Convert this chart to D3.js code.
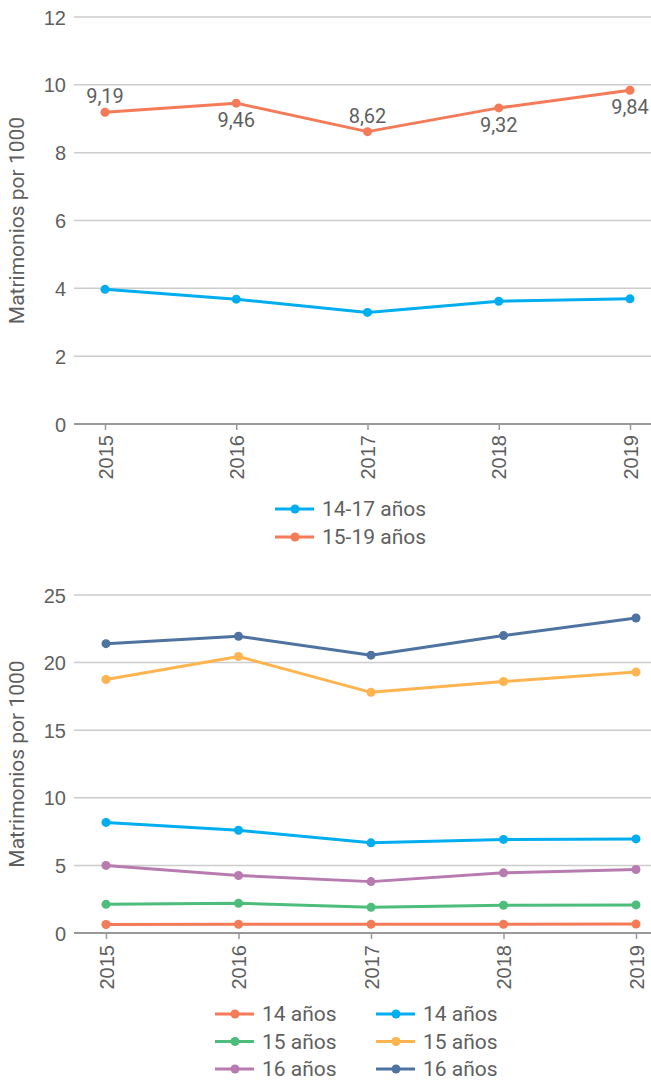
<!DOCTYPE html>
<html>
<head>
<meta charset="utf-8">
<script src="https://cdn.jsdelivr.net/npm/d3@7"></script>
<style>
  html, body { margin: 0; padding: 0; background: #fff; }
  svg { display: block; font-family: Roboto, "Noto Sans", sans-serif; }
</style>
</head>
<body>
<svg id="chart" width="651" height="1081"></svg>
<script>
// ---------- DATA ----------
const years = ["2015", "2016", "2017", "2018", "2019"];

// Top chart
const topNames = ["14-17 años", "15-19 años"];
const top1417 = [3.97, 3.68, 3.29, 3.62, 3.69];
const top1519 = [9.19, 9.46, 8.62, 9.32, 9.84];
const topValueLabels = ["9,19", "9,46", "8,62", "9,32", "9,84"];
const topLabelSide = [-1, 1, -1, 1, 1]; // -1 above, 1 below
const topTicks = [0, 2, 4, 6, 8, 10, 12];

// Bottom chart
const botNames = ["14 años", "15 años", "16 años", "14 años", "15 años", "16 años"];
const bot14a = [0.63, 0.64, 0.64, 0.65, 0.66];
const bot15a = [2.12, 2.20, 1.90, 2.05, 2.08];
const bot16a = [5.00, 4.25, 3.80, 4.45, 4.70];
const bot14b = [8.18, 7.60, 6.67, 6.92, 6.96];
const bot15b = [18.75, 20.45, 17.80, 18.60, 19.30];
const bot16b = [21.40, 21.95, 20.55, 22.00, 23.30];
const botTicks = [0, 5, 10, 15, 20, 25];

const yTitle = "Matrimonios por 1000";

// ---------- STYLE ----------
const C = {
  coral: "#f47a58", cyan: "#00adef", green: "#4dbd7b",
  orange: "#ffb450", purple: "#b87bb0", navy: "#4e73a0",
  grid: "#cccccc", axis: "#999999", text: "#5f5f5f"
};

const svg = d3.select("#chart");

function drawChart(cfg) {
  const g = svg.append("g");
  const x = d3.scalePoint().domain(years).range(cfg.xRange);
  const y = d3.scaleLinear().domain([0, d3.max(cfg.ticks)]).range([cfg.y0, cfg.yTop]);

  // grid
  g.selectAll("line.grid").data(cfg.ticks.filter(t => t !== 0)).join("line")
    .attr("x1", cfg.gridX0).attr("x2", 651)
    .attr("y1", d => y(d)).attr("y2", d => y(d))
    .attr("stroke", C.grid).attr("stroke-width", 1.5);

  // y axis labels
  const yAxis = d3.axisLeft(y).tickValues(cfg.ticks).tickSize(0).tickPadding(0);
  const ya = g.append("g").attr("transform", `translate(${cfg.gridX0 - 8},0)`).call(yAxis);
  ya.select(".domain").remove();
  ya.selectAll("text").attr("fill", C.text).style("font-size", "20px")
    .attr("dy", "0.35em");

  // x axis
  const xAxis = d3.axisBottom(x).tickSize(6).tickPadding(0);
  const xa = g.append("g").attr("transform", `translate(0,${cfg.y0})`).call(xAxis);
  xa.select(".domain").remove();
  xa.selectAll(".tick line").attr("stroke", C.axis).attr("stroke-width", 1.5);
  xa.selectAll("text").attr("fill", C.text).style("font-size", "20px")
    .attr("transform", "rotate(-90)")
    .attr("text-anchor", "end")
    .attr("x", -cfg.labelGap).attr("y", 0).attr("dy", "0.36em");
  g.append("line").attr("x1", cfg.gridX0).attr("x2", 651)
    .attr("y1", cfg.y0).attr("y2", cfg.y0)
    .attr("stroke", C.axis).attr("stroke-width", 2);

  // y title
  g.append("text")
    .attr("transform", `translate(24,${(cfg.y0 + cfg.yTop) / 2}) rotate(-90)`)
    .attr("text-anchor", "middle").attr("fill", C.text).style("font-size", "21px")
    .text(yTitle);

  // series
  const line = d3.line().x((d, i) => x(years[i])).y(d => y(d));
  cfg.series.forEach(s => {
    g.append("path").datum(s.values).attr("d", line)
      .attr("fill", "none").attr("stroke", s.color).attr("stroke-width", 3)
      .attr("stroke-linejoin", "round");
    g.selectAll(null).data(s.values).join("circle")
      .attr("cx", (d, i) => x(years[i])).attr("cy", d => y(d))
      .attr("r", 4.5).attr("fill", s.color);
  });

  if (cfg.valueLabels) {
    const vl = cfg.valueLabels;
    g.selectAll(null).data(vl.values).join("text")
      .attr("x", (d, i) => x(years[i]))
      .attr("y", (d, i) => y(d) + (vl.side[i] < 0 ? -9 : 24))
      .attr("text-anchor", "middle").attr("fill", C.text).style("font-size", "20px")
      .text((d, i) => vl.text[i]);
  }

  // legend
  const lg = g.append("g");
  cfg.legend.forEach(it => {
    const li = lg.append("g").attr("transform", `translate(${it.x},${it.y})`);
    li.append("line").attr("x1", 0).attr("x2", 39).attr("y1", 0).attr("y2", 0)
      .attr("stroke", it.color).attr("stroke-width", 3);
    li.append("circle").attr("cx", 20).attr("cy", 0).attr("r", 4.5).attr("fill", it.color);
    li.append("text").attr("x", 47).attr("y", 0).attr("dy", "0.35em")
      .attr("fill", C.text).style("font-size", "21px").text(it.name);
  });
}

drawChart({
  xRange: [105, 630], y0: 424, yTop: 17, gridX0: 74, labelGap: 11,
  ticks: topTicks,
  series: [
    { values: top1417, color: C.cyan },
    { values: top1519, color: C.coral }
  ],
  valueLabels: { values: top1519, text: topValueLabels, side: topLabelSide },
  legend: [
    { name: topNames[0], color: C.cyan, x: 275, y: 509 },
    { name: topNames[1], color: C.coral, x: 275, y: 537 }
  ]
});

const botColors = [C.coral, C.green, C.purple, C.cyan, C.orange, C.navy];
const botValues = [bot14a, bot15a, bot16a, bot14b, bot15b, bot16b];
drawChart({
  xRange: [106, 636], y0: 933, yTop: 595, gridX0: 74, labelGap: 12,
  ticks: botTicks,
  series: botValues.map((v, i) => ({ values: v, color: botColors[i] })),
  legend: botNames.map((n, i) => ({
    name: n, color: botColors[i],
    x: i < 3 ? 215 : 376, y: 1014 + (i % 3) * 27.5
  }))
});
</script>
</body>
</html>
